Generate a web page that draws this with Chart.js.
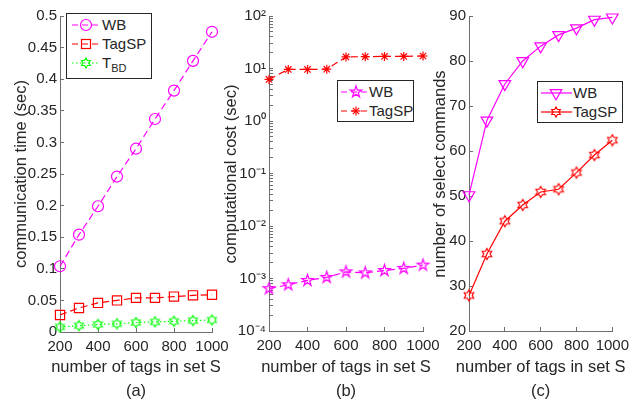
<!DOCTYPE html>
<html>
<head>
<meta charset="utf-8">
<script src="https://cdn.jsdelivr.net/npm/chart.js"></script>
<style>
html,body{margin:0;padding:0;background:#fff;}
#wrap{position:relative;width:639px;height:401px;overflow:hidden;font-family:"Liberation Sans",Arial,"DejaVu Sans",sans-serif;color:#262626;}
canvas{position:absolute;left:0;top:0;}
.leg{position:absolute;background:#fff;border:1px solid #262626;box-sizing:border-box;}
.row{position:absolute;left:0;height:20px;width:100%;}
.row svg{position:absolute;left:0;top:0;overflow:visible;}
.row span{position:absolute;font-size:15px;line-height:20px;top:0;white-space:nowrap;}
.row sub{font-size:11px;vertical-align:-4px;line-height:0;}
.xt{position:absolute;width:300px;text-align:center;font-size:16.5px;line-height:24px;white-space:nowrap;}
.yt{position:absolute;width:320px;height:20px;text-align:center;font-size:16.5px;line-height:20px;white-space:nowrap;transform:rotate(-90deg);}
</style>
</head>
<body>
<div id="wrap">
  <canvas id="ca" width="639" height="401"></canvas>
  <canvas id="cb" width="639" height="401"></canvas>
  <canvas id="cc" width="639" height="401"></canvas>
</div>
<script>
// ---------- data ----------
const xTags = [200, 300, 400, 500, 600, 700, 800, 900, 1000];
// (a) communication time (sec)
const commWB    = [0.104, 0.154, 0.199, 0.246, 0.290, 0.337, 0.382, 0.429, 0.475];
const commTagSP = [0.027, 0.038, 0.046, 0.050, 0.054, 0.054, 0.056, 0.058, 0.059];
const commTBD   = [0.008, 0.010, 0.012, 0.013, 0.015, 0.016, 0.017, 0.018, 0.019];
// (b) computational cost (sec)
const costWB    = [6.4e-4, 7.6e-4, 9.2e-4, 1.05e-3, 1.34e-3, 1.28e-3, 1.42e-3, 1.56e-3, 1.8e-3];
const costTagSP = [6.2, 9.6, 9.6, 9.7, 16.6, 16.8, 17.0, 17.0, 17.3];
// (c) number of select commands
const selWB     = [50.2, 66.8, 74.9, 80.0, 83.3, 85.8, 87.3, 89.2, 89.7];
const selTagSP  = [27.9, 37.1, 44.4, 48.0, 50.9, 51.5, 55.2, 59.1, 62.4];
// tick labels
const costExponents  = [-4, -3, -2, -1, 0, 1, 2];
const costTickLabels = ['10\u207B\u2074', '10\u207B\u00B3', '10\u207B\u00B2', '10\u207B\u00B9', '10\u2070', '10\u00B9', '10\u00B2'];
const xTitle = 'number of tags in set S';

// ---------- styles ----------
const AX = '#6e6e6e', TX = '#262626';
const MAG = '#ff00ff', RED = '#ff0000', GRN = '#00ff00';
const FONT = '"Liberation Sans", Arial, sans-serif';
Chart.defaults.font.family = FONT;
Chart.defaults.color = TX;
const tickFont = {family: FONT, size: 15, lineHeight: 1.2};

function starPts(n, ro, ri, cx, cy) {
  const p = [];
  for (let i = 0; i < 2 * n; i++) {
    const r = i % 2 === 0 ? ro : ri;
    const a = -Math.PI / 2 + i * Math.PI / n;
    p.push([cx + r * Math.cos(a), cy + r * Math.sin(a)]);
  }
  return p;
}
function starCanvas(n, ro, ri, color, lw) {
  const s = Math.ceil(2 * ro + lw + 3);
  const c = document.createElement('canvas');
  c.width = s; c.height = s;
  const g = c.getContext('2d');
  const pts = starPts(n, ro, ri, s / 2, s / 2);
  g.beginPath();
  pts.forEach((q, i) => i ? g.lineTo(q[0], q[1]) : g.moveTo(q[0], q[1]));
  g.closePath();
  g.strokeStyle = color; g.lineWidth = lw; g.lineJoin = 'miter';
  g.stroke();
  return c;
}
const hexGreen = starCanvas(6, 5, 5 / Math.sqrt(3), GRN, 1.2);
const hexRed   = starCanvas(6, 5.5, 5.5 / Math.sqrt(3), RED, 1.2);
const pentMag  = starCanvas(5, 6, 6 * 0.382, MAG, 1.2);

function pts(arr) { return xTags.map((x, i) => ({x: x, y: arr[i]})); }
function ds(arr, color, dash, style, radius, rot) {
  return {
    data: pts(arr), borderColor: color, borderWidth: 1.2, borderDash: dash,
    pointStyle: style, pointRadius: radius, pointRotation: rot || 0,
    pointBorderColor: color, pointBackgroundColor: 'rgba(0,0,0,0)',
    pointBorderWidth: 1.2, tension: 0, clip: false, fill: false
  };
}

const wrap = document.getElementById('wrap');
function addText(cls, html, left, top) {
  const d = document.createElement('div');
  d.className = cls; d.innerHTML = html;
  d.style.left = left + 'px'; d.style.top = top + 'px';
  wrap.appendChild(d);
}

function panel(id, cfg) {
  const y = Object.assign({
    position: 'left',
    grid: {drawOnChartArea: false, tickLength: -4, color: AX, lineWidth: 1},
    border: {color: AX, width: 1},
    title: {display: false},
    afterFit: s => { s.width = cfg.L - cfg.padLeft; }
  }, cfg.y);
  y.ticks = Object.assign({font: tickFont, color: TX, padding: 7, autoSkip: false}, cfg.y.ticks || {});
  const chart = new Chart(document.getElementById(id), {
    type: 'line',
    data: {datasets: cfg.datasets},
    options: {
      responsive: false, animation: false, devicePixelRatio: 1,
      layout: {padding: {left: cfg.padLeft, right: 639 - cfg.R, top: cfg.T, bottom: 0}},
      plugins: {legend: {display: false}, tooltip: {enabled: false}},
      scales: {
        x: {
          type: 'linear', position: 'bottom', min: 200, max: 1000,
          ticks: {stepSize: 200, font: tickFont, color: TX, padding: 10, maxRotation: 0, autoSkip: false,
                  callback: v => String(v)},
          grid: {drawOnChartArea: false, tickLength: -4, color: AX, lineWidth: 1},
          border: {color: AX, width: 1},
          title: {display: false},
          afterFit: s => { s.height = 401 - cfg.B; }
        },
        y: y
      }
    }
  });
  const a = chart.chartArea;
  const cx = (a.left + a.right) / 2, cy = (a.top + a.bottom) / 2;
  addText('xt', xTitle + '<br>' + cfg.caption, cx - 150, 354);
  addText('yt', cfg.yTitle, cfg.yTitleX - 160, cy - 10);
}

// (a)
panel('ca', {
  L: 60, R: 212, T: 13, B: 332, padLeft: 0, caption: '(a)', yTitleX: 19.5,
  yTitle: 'communication time (sec)',
  y: {type: 'linear', min: 0, max: 0.5,
      ticks: {stepSize: 0.05, callback: v => String(Math.round(v * 100) / 100)}},
  datasets: [
    ds(commWB, MAG, [7, 4], 'circle', 5.5),
    ds(commTagSP, RED, [7, 4], 'rect', 6.5),
    ds(commTBD, GRN, [1.5, 2.5], hexGreen, 5)
  ]
});
// (b)
panel('cb', {
  L: 269, R: 423, T: 12.5, B: 331, padLeft: 210, caption: '(b)', yTitleX: 229.5,
  yTitle: 'computational cost (sec)',
  y: {
    type: 'logarithmic', min: 1e-4, max: 100,
    afterBuildTicks: s => {
      const t = [];
      for (let k = 0; k < costExponents.length - 1; k++)
        for (let m = 1; m <= 9; m++) t.push({value: m * Math.pow(10, costExponents[k])});
      t.push({value: Math.pow(10, costExponents[costExponents.length - 1])});
      s.ticks = t;
    },
    ticks: {
      callback: v => {
        const e = Math.log10(v), r = Math.round(e);
        if (Math.abs(e - r) > 1e-6) return '';
        const i = costExponents.indexOf(r);
        return i >= 0 ? costTickLabels[i] : '';
      }
    }
  },
  datasets: [
    ds(costWB, MAG, [7, 4], pentMag, 6),
    ds(costTagSP, RED, [7, 4], 'star', 4.5)
  ]
});
// (c)
panel('cc', {
  L: 469, R: 622, T: 12, B: 331, padLeft: 420, caption: '(c)', yTitleX: 439,
  yTitle: 'number of select commands',
  y: {type: 'linear', min: 20, max: 90, ticks: {stepSize: 10}},
  datasets: [
    ds(selWB, MAG, [], 'triangle', 6.7, 180),
    ds(selTagSP, RED, [], hexRed, 5.5)
  ]
});

// ---------- legends ----------
function svgMarker(type, cx, cy, color) {
  const st = 'fill="none" stroke="' + color + '" stroke-width="1.2"';
  if (type === 'circle') return '<circle cx="' + cx + '" cy="' + cy + '" r="5.5" ' + st + '/>';
  if (type === 'rect') return '<rect x="' + (cx - 4.5) + '" y="' + (cy - 4.5) + '" width="9" height="9" ' + st + '/>';
  if (type === 'hex' || type === 'pent') {
    const p = type === 'hex' ? starPts(6, 5, 5 / Math.sqrt(3), cx, cy) : starPts(5, 6, 6 * 0.382, cx, cy);
    return '<polygon points="' + p.map(q => q[0].toFixed(2) + ',' + q[1].toFixed(2)).join(' ') + '" ' + st + '/>';
  }
  if (type === 'star') {
    let s = '';
    for (let k = 0; k < 4; k++) {
      const a = k * Math.PI / 4, r = 4.5;
      s += '<line x1="' + (cx - r * Math.cos(a)) + '" y1="' + (cy - r * Math.sin(a)) + '" x2="' + (cx + r * Math.cos(a)) + '" y2="' + (cy + r * Math.sin(a)) + '" ' + st + '/>';
    }
    return s;
  }
  if (type === 'tri') {
    const r = 6.7;
    const p = [[cx, cy + r], [cx - r * 0.866, cy - r / 2], [cx + r * 0.866, cy - r / 2]];
    return '<polygon points="' + p.map(q => q.join(',')).join(' ') + '" ' + st + '/>';
  }
  return '';
}
function legend(spec) {
  const d = document.createElement('div');
  d.className = 'leg';
  d.style.left = spec.left + 'px'; d.style.top = spec.top + 'px';
  d.style.width = spec.w + 'px'; d.style.height = spec.h + 'px';
  spec.rows.forEach(r => {
    const row = document.createElement('div');
    row.className = 'row';
    const cy = r.cy - spec.top - 1;
    row.style.top = (cy - 10) + 'px';
    const x1 = spec.x1 - spec.left - 1, x2 = spec.x2 - spec.left - 1, mx = spec.mx - spec.left - 1;
    const dash = r.dash ? ' stroke-dasharray="' + r.dash + '"' : '';
    row.innerHTML = '<svg width="' + (x2 + 2) + '" height="20">' +
      '<line x1="' + x1 + '" y1="10" x2="' + x2 + '" y2="10" stroke="' + r.color + '" stroke-width="1.2"' + dash + '/>' +
      svgMarker(r.marker, mx, 10, r.color) + '</svg>' +
      '<span style="left:' + (spec.tx - spec.left - 1) + 'px">' + r.label + '</span>';
    d.appendChild(row);
  });
  wrap.appendChild(d);
}
legend({left: 66, top: 13, w: 86, h: 66, x1: 72, x2: 100, mx: 86, tx: 102, rows: [
  {label: 'WB', color: MAG, dash: '6,4', marker: 'circle', cy: 24.5},
  {label: 'TagSP', color: RED, dash: '6,4', marker: 'rect', cy: 43.5},
  {label: 'T<sub>BD</sub>', color: GRN, dash: '1.5,2.5', marker: 'hex', cy: 63}
]});
legend({left: 337, top: 80, w: 77, h: 42, x1: 341, x2: 368, mx: 356, tx: 369, rows: [
  {label: 'WB', color: MAG, dash: '6,4', marker: 'pent', cy: 92},
  {label: 'TagSP', color: RED, dash: '6,4', marker: 'star', cy: 111}
]});
legend({left: 537, top: 81, w: 86, h: 42, x1: 541, x2: 572, mx: 556, tx: 573, rows: [
  {label: 'WB', color: MAG, dash: '', marker: 'tri', cy: 93},
  {label: 'TagSP', color: RED, dash: '', marker: 'hex', cy: 112}
]});
</script>
</body>
</html>
